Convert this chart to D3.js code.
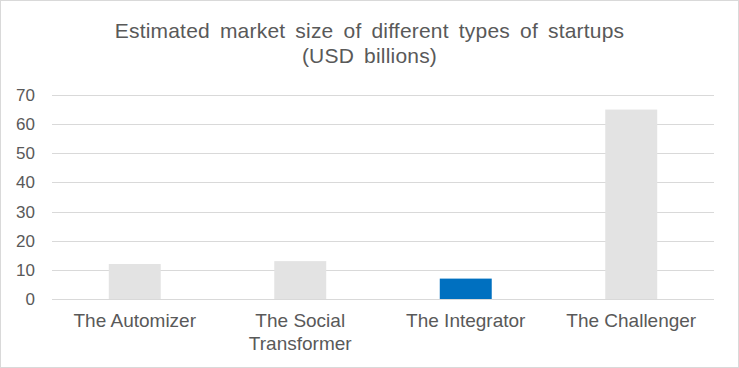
<!DOCTYPE html>
<html>
<head>
<meta charset="utf-8">
<script src="https://cdn.jsdelivr.net/npm/d3@7"></script>
<style>
  body { margin: 0; background: #fff; }
  svg { display: block; font-family: "Liberation Sans", Arial, sans-serif; }
</style>
</head>
<body>
<script>
// data
var categories = ["The Automizer", "The Social Transformer", "The Integrator", "The Challenger"];
var values = [12, 13, 7, 65];
var barColors = ["#e3e3e3", "#e3e3e3", "#0070c0", "#e3e3e3"];
var yTicks = [0, 10, 20, 30, 40, 50, 60, 70];
var titleLines = ["Estimated market size of different types of startups", "(USD billions)"];

var width = 739, height = 368;
var margin = {top: 95, right: 25, bottom: 69, left: 52};

var svg = d3.select("body").append("svg")
    .attr("width", width)
    .attr("height", height);

// outer frame
svg.append("rect")
    .attr("x", 0.5).attr("y", 0.5)
    .attr("width", width - 1).attr("height", height - 1)
    .attr("fill", "#fff")
    .attr("stroke", "#d9d9d9");

var x = d3.scaleBand()
    .domain(categories)
    .range([margin.left, width - margin.right])
    .paddingInner(0.686)
    .paddingOuter(0.343);

var y = d3.scaleLinear()
    .domain([0, 70])
    .range([height - margin.bottom, margin.top]);

// gridlines
svg.append("g")
    .selectAll("line")
    .data(yTicks)
    .enter().append("line")
      .attr("x1", margin.left)
      .attr("x2", width - margin.right)
      .attr("y1", function(d) { return Math.round(y(d)) + 0.5; })
      .attr("y2", function(d) { return Math.round(y(d)) + 0.5; })
      .attr("stroke", "#d9d9d9")
      .attr("stroke-width", 1);

// bars
svg.append("g")
    .selectAll("rect")
    .data(values)
    .enter().append("rect")
      .attr("x", function(d, i) { return x(categories[i]); })
      .attr("y", function(d) { return y(d); })
      .attr("width", x.bandwidth())
      .attr("height", function(d) { return y(0) - y(d); })
      .attr("fill", function(d, i) { return barColors[i]; });

// y axis labels
var yAxis = svg.append("g")
    .attr("transform", "translate(" + (margin.left - 17) + ",0)")
    .call(d3.axisLeft(y).tickValues(yTicks).tickSize(0).tickPadding(0));
yAxis.select(".domain").remove();
yAxis.selectAll("text")
    .attr("fill", "#595959")
    .style("font-size", "17px")
    .style("font-family", "'Liberation Sans', Arial, sans-serif");

// x axis labels (wrapped like the original)
var labelLines = {
  "The Automizer": ["The Automizer"],
  "The Social Transformer": ["The Social", "Transformer"],
  "The Integrator": ["The Integrator"],
  "The Challenger": ["The Challenger"]
};
var xl = svg.append("g")
    .selectAll("text")
    .data(categories)
    .enter().append("text")
      .attr("x", function(d) { return x(d) + x.bandwidth() / 2; })
      .attr("y", y(0) + 28)
      .attr("text-anchor", "middle")
      .attr("fill", "#595959")
      .style("font-size", "19px");
xl.selectAll("tspan")
    .data(function(d) { return labelLines[d]; })
    .enter().append("tspan")
      .attr("x", function() { return d3.select(this.parentNode).attr("x"); })
      .attr("dy", function(d, i) { return i === 0 ? 0 : 23; })
      .text(function(d) { return d; });

// title
svg.append("text")
    .attr("x", width / 2)
    .attr("y", 38)
    .attr("text-anchor", "middle")
    .attr("fill", "#595959")
    .style("font-size", "21px")
    .style("word-spacing", "4px")
    .style("letter-spacing", "0.2px")
    .selectAll("tspan")
    .data(titleLines)
    .enter().append("tspan")
      .attr("x", width / 2)
      .attr("dy", function(d, i) { return i === 0 ? 0 : 25; })
      .text(function(d) { return d; });
</script>
</body>
</html>
